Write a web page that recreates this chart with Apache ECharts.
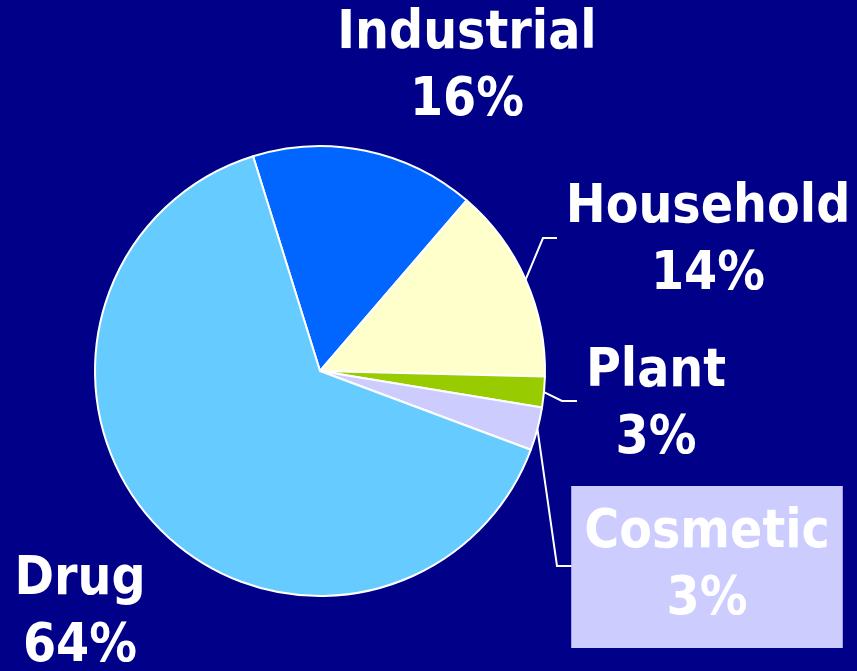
<!DOCTYPE html>
<html>
<head>
<meta charset="utf-8">
<script src="https://cdn.jsdelivr.net/npm/echarts@6/dist/echarts.min.js"></script>
<style>
html,body{margin:0;padding:0;background:#000088;}
#chart{width:857px;height:671px;}
</style>
</head>
<body>
<div id="chart"></div>
<script>
var categories = ['Industrial', 'Household', 'Plant', 'Cosmetic', 'Drug'];
var values = [16.1, 14.1, 2.2, 3.1, 64.5];
var pctLabels = [16, 14, 3, 3, 64];
var colors = ['#0066FF', '#FFFFCC', '#99CC00', '#CCCCFF', '#66CCFF'];

// label placement (layout only)
var labelPos = [
  {x: 467, y: 68},
  {x: 708, y: 242},
  {x: 656, y: 406},
  {x: 707, y: 567},
  {x: 80, y: 614}
];
var lineBends = [
  null,
  [[543, 238], [557, 238]],
  [[562, 401], [577, 401]],
  [[557, 566], [572, 566]],
  null
];

var FONT = '"DejaVu Sans Condensed", "DejaVu Sans", sans-serif';

var data = categories.map(function (c, i) {
  var item = {
    name: c,
    value: values[i],
    itemStyle: {color: colors[i]},
    labelLine: {show: lineBends[i] !== null}
  };
  if (c === 'Cosmetic') {
    item.label = {backgroundColor: '#CCCCFF', padding: [14, 13]};
  }
  return item;
});

var chart = echarts.init(document.getElementById('chart'));
chart.setOption({
  backgroundColor: '#000088',
  animation: false,
  series: [{
    type: 'pie',
    center: [320, 371],
    radius: 225,
    startAngle: 107.3,
    clockwise: true,
    avoidLabelOverlap: false,
    emphasis: {disabled: true},
    itemStyle: {borderColor: '#FFFFFF', borderWidth: 2},
    label: {
      show: true,
      position: 'outside',
      color: '#FFFFFF',
      fontFamily: FONT,
      fontWeight: 'bold',
      fontSize: 53,
      lineHeight: 67,
      align: 'center',
      formatter: function (p) {
        return p.name + '\n' + pctLabels[p.dataIndex] + '%';
      }
    },
    labelLine: {
      show: true,
      lineStyle: {color: '#FFFFFF', width: 2}
    },
    labelLayout: function (params) {
      var i = params.dataIndex;
      var out = {
        x: labelPos[i].x,
        y: labelPos[i].y,
        align: 'center',
        verticalAlign: 'middle'
      };
      if (lineBends[i] && params.labelLinePoints) {
        out.labelLinePoints = [params.labelLinePoints[0]].concat(lineBends[i]);
      }
      return out;
    },
    data: data
  }]
});
</script>
</body>
</html>
